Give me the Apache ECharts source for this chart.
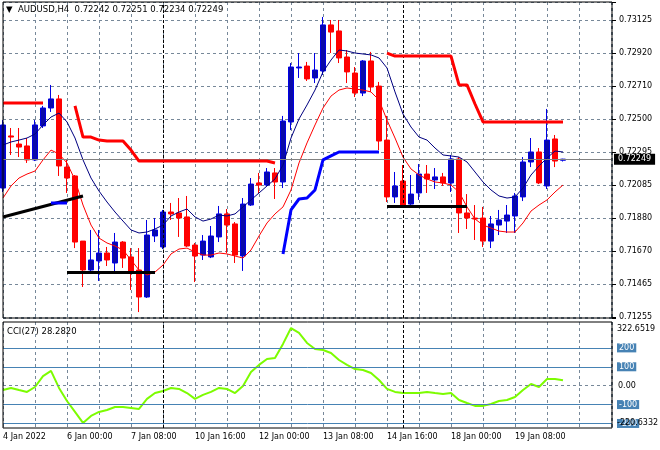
<!DOCTYPE html>
<html><head><meta charset="utf-8">
<script src="https://cdn.jsdelivr.net/npm/echarts@6/dist/echarts.min.js"></script>
<style>html,body{margin:0;padding:0;background:#fff}#c{width:660px;height:450px}</style>
</head><body><div id="c"></div>
<script>
// ---------------- data ----------------
const symbol = 'AUDUSD';
const timeframe = 'H4';
const xTickLabels = ['4 Jan 2022','6 Jan 00:00','7 Jan 08:00','10 Jan 16:00','12 Jan 00:00','13 Jan 08:00','14 Jan 16:00','18 Jan 00:00','19 Jan 08:00'];
const priceTickLabels = ['0.71255','0.71465','0.71670','0.71880','0.72085','0.72295','0.72500','0.72710','0.72920','0.73125'];

const open = [
0.72067,0.72395,0.72344,0.72332,0.72244,0.72458,0.72571,0.72628,0.72199,0.72143,
0.71733,0.71551,0.71608,0.71658,0.71595,0.71727,0.71633,0.71551,0.71381,0.71765,
0.71696,0.71916,0.71910,0.71885,0.71708,0.71645,0.71633,0.71759,0.71904,0.71841,
0.71639,0.71960,0.72099,0.72086,0.72162,0.72105,0.72483,0.72823,0.72835,0.72760,
0.72804,0.73094,0.73056,0.72892,0.72791,0.72665,0.72867,0.72709,0.72369,0.72011,
0.72111,0.71966,0.72036,0.72155,0.72118,0.72137,0.72099,0.72250,0.71910,0.71878,
0.71878,0.71733,0.71834,0.71859,0.71891,0.72011,0.72231,0.72294,0.72080,0.72376,
0.72242];
const close = [
0.72464,0.72388,0.72325,0.72244,0.72464,0.72571,0.72628,0.72206,0.72130,0.71727,
0.71551,0.71614,0.71658,0.71614,0.71727,0.71626,0.71538,0.71381,0.71771,0.71803,
0.71916,0.71904,0.71878,0.71702,0.71639,0.71733,0.71765,0.71904,0.71834,0.71645,
0.71966,0.72092,0.72086,0.72168,0.72105,0.72489,0.72829,0.72829,0.72754,0.72810,
0.73094,0.73049,0.72886,0.72798,0.72665,0.72867,0.72703,0.72363,0.72011,0.72080,
0.71954,0.72029,0.72155,0.72124,0.72137,0.72099,0.72250,0.71910,0.71878,0.71872,
0.71733,0.71841,0.71866,0.71897,0.72017,0.72231,0.72294,0.72099,0.72369,0.72237,
0.72249];
const high = [
0.72495,0.72445,0.72445,0.72382,0.72495,0.72584,0.72716,0.72653,0.72244,0.72149,
0.71733,0.71803,0.71803,0.71696,0.71784,0.71733,0.71689,0.71689,0.71866,0.71878,
0.71929,0.71973,0.72004,0.72017,0.71721,0.71771,0.71828,0.71954,0.71935,0.71853,
0.72004,0.72130,0.72162,0.72193,0.72193,0.72521,0.72854,0.72917,0.72861,0.72917,
0.73144,0.73125,0.73125,0.72936,0.72829,0.72873,0.72924,0.72735,0.72521,0.72168,
0.72212,0.72149,0.72218,0.72212,0.72193,0.72162,0.72275,0.72262,0.72029,0.71960,
0.71948,0.71891,0.71929,0.71960,0.72036,0.72262,0.72382,0.72319,0.72565,0.72401,
0.72251];
const low = [
0.72042,0.72275,0.72262,0.72225,0.72237,0.72445,0.72546,0.72143,0.72036,0.71689,
0.71444,0.71538,0.71482,0.71576,0.71538,0.71564,0.71425,0.71286,0.71375,0.71727,
0.71683,0.71866,0.71759,0.71696,0.71475,0.71614,0.71626,0.71727,0.71658,0.71595,
0.71545,0.71954,0.72036,0.72080,0.71998,0.72067,0.72432,0.72760,0.72741,0.72728,
0.72779,0.72917,0.72854,0.72728,0.72640,0.72646,0.72672,0.72306,0.71979,0.71973,
0.71948,0.71948,0.71992,0.72036,0.72061,0.72080,0.72042,0.71784,0.71809,0.71740,
0.71696,0.71689,0.71771,0.71784,0.71784,0.71985,0.72199,0.72092,0.72061,0.72199,
0.72234];

const maUpper = [
0.72338,0.72357,0.72369,0.72382,0.72407,0.72464,0.72514,0.72539,0.72483,0.72382,
0.72244,0.72130,0.72048,0.71979,0.71916,0.71859,0.71803,0.71784,0.71790,0.71809,
0.71834,0.71891,0.71916,0.71935,0.71885,0.71859,0.71872,0.71897,0.71891,0.71904,
0.71948,0.71992,0.72036,0.72080,0.72124,0.72212,0.72382,0.72502,0.72590,0.72684,
0.72798,0.72873,0.72936,0.72930,0.72917,0.72911,0.72905,0.72886,0.72823,0.72672,
0.72533,0.72451,0.72388,0.72369,0.72319,0.72275,0.72269,0.72262,0.72231,0.72168,
0.72105,0.72055,0.72017,0.72004,0.72011,0.72067,0.72149,0.72206,0.72256,0.72300,
0.72294];
const maLower = [
0.72004,0.72080,0.72130,0.72155,0.72174,0.72244,0.72306,0.72281,0.72225,0.72118,
0.71960,0.71834,0.71752,0.71721,0.71702,0.71677,0.71614,0.71551,0.71519,0.71538,
0.71582,0.71652,0.71683,0.71689,0.71664,0.71645,0.71645,0.71658,0.71652,0.71639,
0.71626,0.71677,0.71765,0.71847,0.71904,0.71948,0.72055,0.72225,0.72351,0.72464,
0.72571,0.72646,0.72684,0.72697,0.72690,0.72684,0.72672,0.72621,0.72495,0.72382,
0.72262,0.72187,0.72149,0.72124,0.72105,0.72099,0.72086,0.72042,0.71948,0.71872,
0.71834,0.71815,0.71796,0.71790,0.71790,0.71847,0.71922,0.71960,0.71992,0.72042,
0.72086];
const resistance = [
0.72602,0.72602,0.72602,0.72602,0.72602,0.72602,null,null,null,0.72584,
0.72388,0.72388,0.72369,0.72363,0.72363,0.72363,0.72306,0.72237,0.72237,0.72237,
0.72237,0.72237,0.72237,0.72237,0.72237,0.72237,0.72237,0.72237,0.72237,0.72237,
0.72237,0.72237,0.72237,0.72237,0.72225,null,null,null,null,null,
null,null,null,null,null,null,null,null,0.72917,0.72898,
0.72898,0.72898,0.72898,0.72898,0.72898,0.72898,0.72898,0.72716,0.72716,0.72596,
0.72483,0.72483,0.72483,0.72483,0.72483,0.72483,0.72483,0.72483,0.72483,0.72483,
0.72483];
const support = [
null,null,null,null,null,null,0.71973,0.71973,0.71973,null,
null,null,null,null,null,null,null,null,null,null,
null,null,null,null,null,null,null,null,null,null,
null,null,null,null,null,0.71652,0.71929,0.71998,0.72004,0.72055,
0.72244,0.72269,0.72294,0.72294,0.72294,0.72294,0.72294,0.72294,null,null,
null,null,null,null,null,null,null,null,null,null,
null,null,null,null,null,null,null,null,null,null,
null];
const cciPeriod = 27;
const cci = [
-23,-12,-23,-33,-7,51,78,-12,-81,-139,
-197,-160,-139,-129,-113,-113,-118,-123,-70,-39,
-28,-12,-17,-39,-70,-49,-33,-12,-17,-39,
-2,72,110,141,147,221,305,279,226,194,
189,173,136,110,88,83,67,30,-17,-33,
-39,-39,-39,-33,-39,-44,-39,-76,-92,-107,
-107,-97,-81,-76,-60,-23,9,-7,35,35,
28.282];
const cciLevels = [200, 100, -100, -200];
const cciRange = [-220.6332, 322.6519];
const weekStarts = [20, 50];
const trendLines = [
  [[0, 0.71885], [10, 0.72017]],
  [[8, 0.71538], [19, 0.71538]],
  [[48, 0.71954], [58, 0.71954]]
];

// ---------------- layout ----------------
const FONT = 'DejaVu Sans';
const L = 3, R = 48;
const mainTop = 2, mainH = 316, subTop = 322, subH = 106;
const priceAxisMin = 0.712487, priceAxisMax = 0.732383;
const tick0 = +priceTickLabels[0];
const tickStep = (+priceTickLabels[priceTickLabels.length - 1] - tick0) / (priceTickLabels.length - 1);
const idxMin = (priceAxisMin - tick0) / tickStep, idxMax = (priceAxisMax - tick0) / tickStep;
const xMax = 76.125;
const gridColor = '#778899';
const dash = [3, 3];
const n = open.length;
const last = n - 1;
const bid = close[last];
const clear = 'rgba(0,0,0,0)';

const xy = arr => arr.map((v, i) => [i, v == null ? '-' : v]);
const sepLine = w => ({xAxis: w, label: {show: false}, lineStyle: {color: '#000', type: [3, 2], width: 1}});

const chart = echarts.init(document.getElementById('c'), null, {renderer: 'canvas'});
const option = {
  animation: false,
  backgroundColor: '#ffffff',
  textStyle: {fontFamily: FONT},
  title: [
    {text: '\u25BC  ' + symbol + ',' + timeframe + '  ' + [open[last], high[last], low[last], close[last]].map(v => v.toFixed(5)).join(' '),
     left: 6, top: 5, padding: 0,
     textStyle: {fontFamily: FONT, fontSize: 8.5, fontWeight: 'normal', color: '#000'}},
    {text: 'CCI(' + cciPeriod + ') ' + cci[last].toFixed(4),
     left: 7, top: 327, padding: 0,
     textStyle: {fontFamily: FONT, fontSize: 8.5, fontWeight: 'normal', color: '#000'}}
  ],
  grid: [
    {left: L, right: R, top: mainTop, height: mainH, show: true, borderColor: '#000', borderWidth: 1, z: 10},
    {left: L, right: R, top: subTop, height: subH, show: true, borderColor: '#000', borderWidth: 1, z: 10}
  ],
  xAxis: [
    {type: 'value', gridIndex: 0, min: 0, max: xMax, interval: 4,
     axisLine: {show: false}, axisTick: {show: false}, axisLabel: {show: false},
     splitLine: {show: true, lineStyle: {color: gridColor, type: dash, width: 1}}},
    {type: 'value', gridIndex: 1, min: 0, max: xMax, interval: 4,
     axisLine: {show: false}, axisTick: {show: false},
     axisLabel: {show: true, align: 'left', margin: 5, fontFamily: FONT, fontSize: 8, color: '#000',
       formatter: v => (v % 8 === 0 && xTickLabels[v / 8]) ? xTickLabels[v / 8] : ''},
     splitLine: {show: true, lineStyle: {color: gridColor, type: dash, width: 1}}}
  ],
  yAxis: [
    {type: 'value', gridIndex: 0, min: priceAxisMin, max: priceAxisMax, show: false, scale: true},
    {type: 'value', gridIndex: 0, position: 'right', min: idxMin, max: idxMax, splitNumber: 10,
     axisLine: {show: false},
     axisTick: {show: true, length: 4, lineStyle: {color: '#000'}},
     axisLabel: {show: true, margin: 7, fontFamily: FONT, fontSize: 8, color: '#000',
       formatter: v => (Number.isInteger(v) && priceTickLabels[v]) ? priceTickLabels[v] : ''},
     splitLine: {show: true, lineStyle: {color: gridColor, type: dash, width: 1}}},
    {type: 'value', gridIndex: 1, min: -224, max: 337, show: false}
  ],
  series: [
    {type: 'candlestick', xAxisIndex: 0, yAxisIndex: 0, z: 3,
     data: open.map((o, i) => [i, o, close[i], low[i], high[i]]),
     encode: {x: 0, y: [1, 2, 3, 4]},
     barWidth: 5,
     itemStyle: {color: '#0a0aa8', color0: '#ff0000', borderColor: '#0000e6', borderColor0: '#ff0000', borderWidth: 1},
     markLine: {silent: true, symbol: 'none', animation: false, data: weekStarts.map(sepLine)}},
    {type: 'line', xAxisIndex: 0, yAxisIndex: 0, z: 4, data: xy(maUpper), showSymbol: false, symbol: 'none',
     lineStyle: {color: '#000080', width: 1},
     markLine: {silent: true, symbol: 'none', animation: false, precision: 5,
       data: [{yAxis: bid, lineStyle: {color: '#808080', type: 'solid', width: 1},
          label: {show: true, position: 'end', distance: 2, formatter: bid.toFixed(5), color: '#fff',
                  backgroundColor: '#000', padding: [2, 4, 1, 4], fontFamily: FONT, fontSize: 8}}]}},
    {type: 'line', xAxisIndex: 0, yAxisIndex: 0, z: 4, data: xy(maLower), showSymbol: false, symbol: 'none',
     lineStyle: {color: '#ff0000', width: 1}},
    {type: 'line', xAxisIndex: 0, yAxisIndex: 0, z: 5, data: xy(resistance), showSymbol: false, symbol: 'none',
     connectNulls: false, lineStyle: {color: '#ff0000', width: 3}},
    {type: 'line', xAxisIndex: 0, yAxisIndex: 0, z: 5, data: xy(support), showSymbol: false, symbol: 'none',
     connectNulls: false, lineStyle: {color: '#0000ff', width: 3}},
    {type: 'line', xAxisIndex: 0, yAxisIndex: 0, z: 6, data: [], showSymbol: false,
     markLine: {silent: true, symbol: 'none', animation: false, label: {show: false},
       lineStyle: {color: '#000', width: 3, type: 'solid'},
       data: trendLines.map(s => [{coord: s[0]}, {coord: s[1]}])}},
    {type: 'line', xAxisIndex: 1, yAxisIndex: 2, z: 4, data: xy(cci), showSymbol: false, symbol: 'none',
     lineStyle: {color: '#7cfc00', width: 2},
     markLine: {silent: true, symbol: 'none', animation: false, precision: 4,
       data: [
         ...cciLevels.map(v => ({yAxis: v, lineStyle: {color: '#4682b4', width: 1, type: 'solid'},
            label: {show: true, position: 'end', distance: 5, formatter: String(v), color: '#fff',
                    backgroundColor: '#4682b4', padding: [1, 2, 0, 2], fontFamily: FONT, fontSize: 8}})),
         {yAxis: 0, lineStyle: {color: gridColor, width: 1, type: dash},
            label: {show: true, position: 'end', distance: 6, formatter: '0.00', color: '#000', fontFamily: FONT, fontSize: 8}},
         {yAxis: cciRange[1], lineStyle: {color: clear, width: 1},
            label: {show: true, position: 'end', distance: 5, formatter: cciRange[1].toFixed(4), color: '#000',
                    verticalAlign: 'top', fontFamily: FONT, fontSize: 8}},
         {yAxis: cciRange[0], lineStyle: {color: clear, width: 1},
            label: {show: true, position: 'end', distance: 5, formatter: cciRange[0].toFixed(4), color: '#000',
                    verticalAlign: 'bottom', fontFamily: FONT, fontSize: 8}},
         ...weekStarts.map(sepLine)
       ]}}
  ]
};
chart.setOption(option);
</script></body></html>
